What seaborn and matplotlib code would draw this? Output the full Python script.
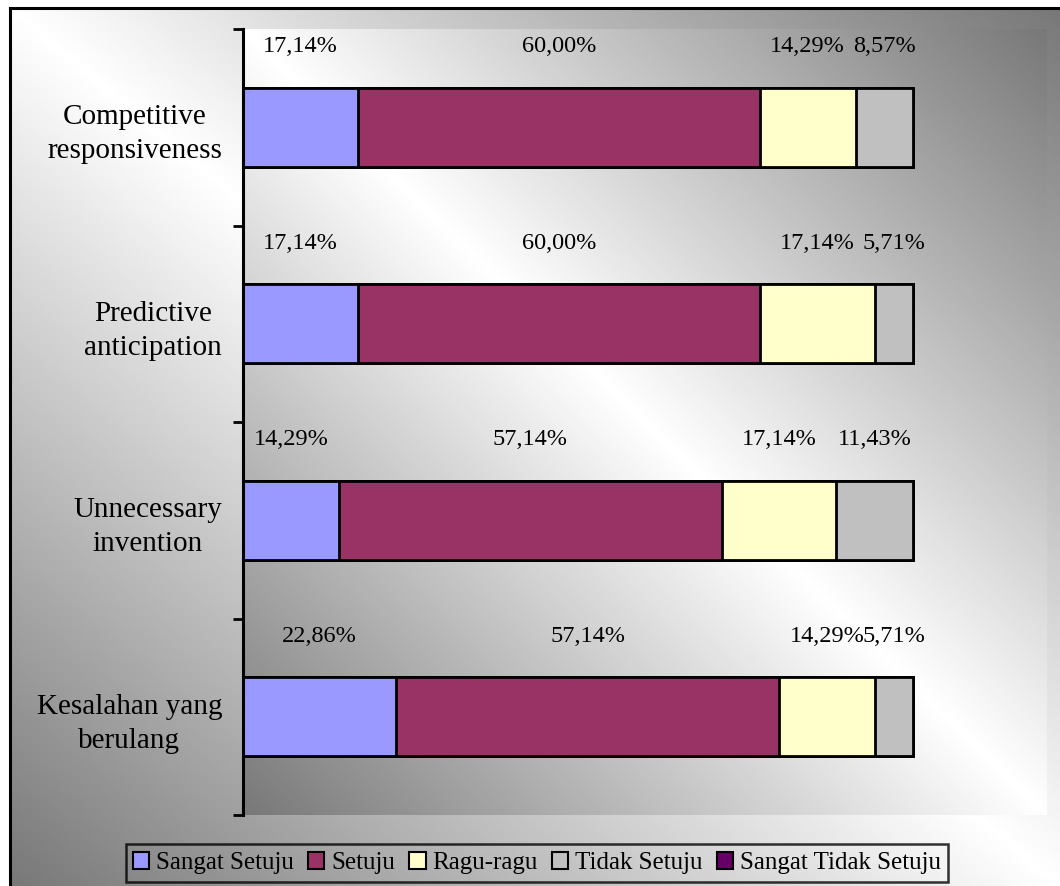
import numpy as np
import pandas as pd
import matplotlib
matplotlib.use('Agg')
import matplotlib.pyplot as plt
from matplotlib.patches import Patch
import seaborn as sns

plt.rcParams['font.family'] = ['Liberation Serif', 'DejaVu Serif']

kategori = ['Competitive\nresponsiveness', 'Predictive\nanticipation',
            'Unnecessary\ninvention', 'Kesalahan yang\nberulang']
seri = ['Sangat Setuju', 'Setuju', 'Ragu-ragu', 'Tidak Setuju', 'Sangat Tidak Setuju']
sangat_setuju = [17.14, 17.14, 14.29, 22.86]
setuju = [60.00, 60.00, 57.14, 57.14]
ragu_ragu = [14.29, 17.14, 17.14, 14.29]
tidak_setuju = [8.57, 5.71, 11.43, 5.71]
sangat_tidak_setuju = [0, 0, 0, 0]
warna = ['#9999FF', '#993366', '#FFFFCC', '#C0C0C0', '#660066']

df = pd.DataFrame({
    'Kategori': kategori,
    'Sangat Setuju': sangat_setuju,
    'Setuju': setuju,
    'Ragu-ragu': ragu_ragu,
    'Tidak Setuju': tidak_setuju,
    'Sangat Tidak Setuju': sangat_tidak_setuju,
})
kumulatif = df[seri].cumsum(axis=1)

W, H = 1060, 886
fig = plt.figure(figsize=(W / 100, H / 100), dpi=100)


def gradien(n=400):
    # terang di diagonal kiri-atas -> kanan-bawah, gelap di dua sudut lainnya
    u = np.linspace(0, 1, n)
    uu, vv = np.meshgrid(u, u)
    return 1 - 0.53 * np.abs(uu - vv)


ax_pos = [243 / W, 1 - 815 / H, (1047 - 243) / W, (815 - 29) / H]

bg = fig.add_axes([0, 0, 1, 1], zorder=-5)
bg.imshow(gradien(), cmap='gray', vmin=0, vmax=1, aspect='auto',
          extent=[10 / W, 1, 0, 1 - 8 / H], interpolation='bilinear')
bg.imshow(gradien(), cmap='gray', vmin=0, vmax=1, aspect='auto',
          extent=[ax_pos[0], ax_pos[0] + ax_pos[2], ax_pos[1], ax_pos[1] + ax_pos[3]],
          interpolation='bilinear')
bg.plot([10 / W, 10 / W], [0, 1 - 8 / H], color='black', lw=2.2, solid_capstyle='projecting')
bg.plot([10 / W, 1], [1 - 8 / H, 1 - 8 / H], color='black', lw=2.2, solid_capstyle='projecting')
bg.set_xlim(0, 1)
bg.set_ylim(0, 1)
bg.axis('off')

ax = fig.add_axes(ax_pos)
ax.set_facecolor('none')

# stacked: gambar kumulatif dari yang terbesar ke terkecil
for i in reversed(range(len(seri))):
    sns.barplot(x=kumulatif[seri[i]], y=df['Kategori'], orient='h', color=warna[i],
                saturation=1, width=0.4, edgecolor='black', linewidth=2,
                errorbar=None, ax=ax)

for i in range(len(kategori)):
    kiri = 0
    for s in seri:
        v = df[s][i]
        if v > 0:
            ax.text(kiri + v / 2, i - 0.41, f'{v:.2f}%'.replace('.', ','),
                    ha='center', va='center', fontsize=17.5)
        kiri += v

ax.set_xlim(0, 120)
ax.set_ylim(3.5, -0.5)
ax.set_xticks([])
ax.set_xlabel('')
ax.set_ylabel('')
for s in ['top', 'right', 'bottom']:
    ax.spines[s].set_visible(False)
ax.spines['left'].set_linewidth(2.2)

ax.set_yticks(np.arange(-0.5, 4, 1))
ax.set_yticklabels([])
ax.set_yticks(range(len(kategori)), minor=True)
ax.set_yticklabels(kategori, minor=True, fontsize=21, multialignment='center',
                   linespacing=1.4)
ax.tick_params(axis='y', which='major', length=7, width=2, direction='out')
ax.tick_params(axis='y', which='minor', length=0, pad=15)

handles = [Patch(facecolor=c, edgecolor='black', linewidth=1.5) for c in warna]
leg = fig.legend(handles, seri, loc='center', bbox_to_anchor=(537 / W, 1 - 863 / H),
                 ncol=5, fontsize=18, frameon=True, fancybox=False, edgecolor='black',
                 facecolor='none', handlelength=0.65, handleheight=0.65,
                 handletextpad=0.28, columnspacing=0.56, borderpad=0.3, borderaxespad=0)
leg.get_frame().set_linewidth(1.8)

fig.savefig('out.png', dpi=100)
